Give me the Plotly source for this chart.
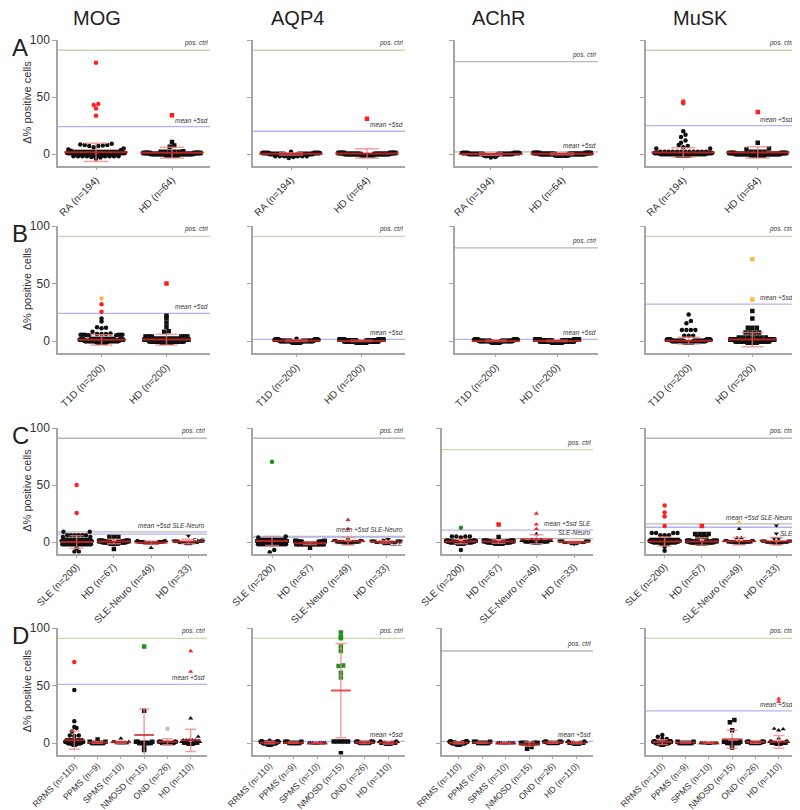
import plotly.graph_objects as go

FONT = "Liberation Sans, Arial, sans-serif"
W, H = 800, 810
OFF = 8  # page body margin: screenshot pixel = paper pixel + OFF
COLUMNS = ["MOG", "AQP4", "AChR", "MuSK"]
ROWS = ["A", "B", "C", "D"]

CATS_A = ["RA (n=194)", "HD (n=64)"]
CATS_B = ["T1D (n=200)", "HD (n=200)"]
CATS_C = ["SLE (n=200)", "HD (n=67)", "SLE-Neuro (n=49)", "HD (n=33)"]
CATS_D = ["RRMS (n=110)", "PPMS (n=9)", "SPMS (n=10)", "NMOSD (n=15)", "OND (n=26)", "HD (n=110)"]

Y_TICKS = [0, 50, 100]
Y_RANGE = [-10, 100]

# band = (value, count) of the many near-zero dots; pts = (value, colour code)
# colour codes: k black, r red (above cut-off), o orange, g green, s grey
# ---------------- Row A ----------------
A_MOG_BAND = [[(-2, 8), (-1, 30), (0, 80), (1, 38), (2, 18)],
              [(-1, 12), (0, 28), (1, 14), (2, 4)]]
A_MOG_PTS = [[(80, 'r'), (44, 'r'), (43, 'r'), (40, 'r'), (33.5, 'r'), (9, 'k'), (8.5, 'k'), (8, 'k'), (8, 'k'),
              (7.5, 'k'), (7, 'k'), (7, 'k'), (6, 'k'), (5, 'k'), (4, 'k'), (3.5, 'k'), (3, 'k'), (-2.5, 'k'),
              (-3, 'k'), (-4, 'k')],
             [(34, 'r'), (10.5, 'k'), (7.5, 'k'), (6.5, 'k'), (2.5, 'k'), (2, 'k')]]
A_MOG_MEAN = [1.6, 1.2]
A_MOG_SD = [8.0, 4.7]
A_MOG_REF = [(91, 'g', 'pos. ctrl', 'above'), (24, 'b', 'mean +5sd', 'above')]

A_AQP4_BAND = [[(-2, 6), (-1, 40), (0, 100), (1, 45)],
               [(-1, 14), (0, 35), (1, 14)]]
A_AQP4_PTS = [[(2, 'k'), (-2.5, 'k'), (-3.5, 'k')], [(31, 'r')]]
A_AQP4_MEAN = [0.2, 0.6]
A_AQP4_SD = [1.0, 4.0]
A_AQP4_REF = [(91, 'g', 'pos. ctrl', 'above'), (20, 'b', 'mean +5sd', 'above')]

A_ACHR_BAND = [[(-1, 45), (0, 100), (1, 43)],
               [(-1, 15), (0, 35), (1, 14)]]
A_ACHR_PTS = [[(-2, 'k'), (-2.5, 'k'), (-3, 'k')], []]
A_ACHR_MEAN = [0.0, 0.2]
A_ACHR_SD = [1.0, 0.8]
A_ACHR_REF = [(81, 's', 'pos. ctrl', 'above'), (2, 's', 'mean +5sd', 'above')]

A_MUSK_BAND = [[(-1, 40), (0, 95), (1, 35), (2, 12)],
               [(-1, 14), (0, 30), (1, 12), (2, 4)]]
A_MUSK_PTS = [[(46, 'r'), (44.5, 'r'), (20, 'k'), (17, 'k'), (15, 'k'), (12, 'k'), (10, 'k'), (8, 'k'), (7, 'k'),
               (6, 'k'), (5, 'k'), (5, 'k')],
              [(37, 'r'), (10, 'k'), (5, 'k'), (4, 'k')]]
A_MUSK_MEAN = [1.5, 1.5]
A_MUSK_SD = [4.0, 5.0]
A_MUSK_REF = [(91, 'g', 'pos. ctrl', 'above'), (25, 'b', 'mean +5sd', 'above')]

# ---------------- Row B ----------------
B_MOG_BAND = [[(-1, 40), (0, 90), (1, 35), (2, 12)],
              [(-1, 40), (0, 95), (1, 38), (2, 13)]]
B_MOG_PTS = [[(37, 'o'), (32, 'r'), (25.5, 'r'), (19.5, 'k'), (17, 'k'), (12, 'k'), (11.5, 'k'), (11, 'k'),
              (8, 'k'), (6.5, 'k'), (6, 'k'), (6, 'k'), (6, 'k'), (5.5, 'k'), (5.5, 'k'), (5.5, 'k'), (5.5, 'k'),
              (5.5, 'k'), (5.5, 'k'), (5, 'k'), (5, 'k'), (5, 'k')],
             [(50, 'r'), (22, 'k'), (20, 'k'), (16, 'k'), (12.5, 'k'), (8.5, 'k'), (8, 'k'), (4, 'k'), (4, 'k'),
              (4, 'k'), (4, 'k'), (4, 'k'), (4, 'k'), (4, 'k'), (4, 'k')]]
B_MOG_MEAN = [1.0, 1.2]
B_MOG_SD = [4.5, 4.6]
B_MOG_REF = [(91, 'g', 'pos. ctrl', 'above'), (24, 'b', 'mean +5sd', 'above')]

B_AQP4_BAND = [[(-1, 45), (0, 110), (1, 44)], [(-1, 45), (0, 110), (1, 45)]]
B_AQP4_PTS = [[(2, 'k')], []]
B_AQP4_MEAN = [0.2, 0.1]
B_AQP4_SD = [0.6, 0.6]
B_AQP4_REF = [(91, 'g', 'pos. ctrl', 'above'), (1.5, 'b', 'mean +5sd', 'above')]

B_ACHR_BAND = [[(-1, 45), (0, 110), (1, 45)], [(-1, 45), (0, 110), (1, 45)]]
B_ACHR_PTS = [[], []]
B_ACHR_MEAN = [0.1, 0.1]
B_ACHR_SD = [0.5, 0.5]
B_ACHR_REF = [(81, 's', 'pos. ctrl', 'above'), (1.5, 'b', 'mean +5sd', 'above')]

B_MUSK_BAND = [[(-1, 40), (0, 110), (1, 40)], [(-1, 40), (0, 100), (1, 42)]]
B_MUSK_PTS = [[(23, 'k'), (17.5, 'k'), (15.5, 'k'), (9.5, 'k'), (9.5, 'k'), (9.5, 'k'), (9.5, 'k'), (4.5, 'k'),
               (4.5, 'k'), (4.5, 'k')],
              [(71, 'o'), (36, 'o'), (26, 'k'), (19.5, 'k'), (11.5, 'k'), (11.5, 'k'), (11.5, 'k'), (7.5, 'k'),
               (7.5, 'k'), (7.5, 'k'), (7.5, 'k'), (3, 'k'), (3, 'k'), (3, 'k'), (3, 'k'), (3, 'k'), (3, 'k'),
               (3, 'k')]]
B_MUSK_MEAN = [0.3, 1.3]
B_MUSK_SD = [2.9, 6.2]
B_MUSK_REF = [(91, 'g', 'pos. ctrl', 'above'), (32, 'b', 'mean +5sd', 'above')]

# ---------------- Row C ----------------
C_MOG_BAND = [[(-2, 20), (-1, 45), (0, 75), (1, 35), (2, 10)],
              [(-1, 18), (0, 30), (1, 15)],
              [(-1, 20), (0, 20), (1, 8)],
              [(-1, 8), (0, 14), (1, 10)]]
C_MOG_PTS = [[(50, 'r'), (25.5, 'r'), (9, 'k'), (9, 'k'), (6, 'k'), (6, 'k'), (6, 'k'), (6, 'k'), (6, 'k'),
              (6, 'k'), (4.5, 'k'), (4.5, 'k'), (-5.5, 'k'), (-8.5, 'k'), (-8.5, 'k')],
             [(4.5, 'k'), (4.5, 'k'), (4.5, 'k'), (-6, 'k')],
             [(-5, 'k')],
             [(5.5, 'k')]]
C_MOG_MEAN = [0.0, 0.5, -0.5, 0.5]
C_MOG_SD = [5.5, 2.0, 1.5, 2.0]
C_MOG_REF = [(91, 's', 'pos. ctrl', 'above'), (9, 's', 'mean +5sd SLE-Neuro', 'above'), (7, 'b', 'SLE', 'below')]

C_AQP4_BAND = [[(-2, 15), (-1, 45), (0, 90), (1, 35), (2, 10)],
               [(-2, 10), (-1, 30), (0, 20), (1, 5)],
               [(-1, 12), (0, 22), (1, 12)],
               [(-1, 8), (0, 15), (1, 8)]]
C_AQP4_PTS = [[(70.5, 'g'), (5, 'k'), (4, 'k'), (-7, 'k'), (-9, 'k')],
              [(-5, 'k')],
              [(19.5, 'r'), (11.5, 'r'), (3, 'k')],
              [(2.5, 'k'), (2, 'k')]]
C_AQP4_MEAN = [1.0, -1.0, 0.7, 0.2]
C_AQP4_SD = [4.0, 1.2, 3.3, 1.0]
C_AQP4_REF = [(91, 's', 'pos. ctrl', 'above'), (5, 's', 'mean +5sd SLE-Neuro', 'above'), (4.3, 'b', 'SLE', 'below')]

C_ACHR_BAND = [[(-1, 50), (0, 100), (1, 42)],
               [(-1, 18), (0, 32), (1, 15)],
               [(-1, 10), (0, 22), (1, 10), (2, 3)],
               [(-1, 8), (0, 16), (1, 8)]]
C_ACHR_PTS = [[(12.5, 'g'), (5, 'k'), (5, 'k'), (5, 'k'), (5, 'k'), (4, 'k'), (-7, 'k')],
              [(15.5, 'r'), (4.5, 'k')],
              [(25, 'r'), (15.5, 'r'), (11.5, 'r'), (7, 'k')],
              [(-1.7, 'k')]]
C_ACHR_MEAN = [0.5, 0.5, 2.5, 0.0]
C_ACHR_SD = [2.0, 1.5, 4.0, 0.8]
C_ACHR_REF = [(81, 'g', 'pos. ctrl', 'above'), (10.5, 'b', 'mean +5sd SLE', 'above'), (3, 's', 'SLE-Neuro', 'above')]

C_MUSK_BAND = [[(-1, 45), (0, 95), (1, 35), (2, 12)],
               [(-1, 15), (0, 30), (1, 14)],
               [(-1, 12), (0, 22), (1, 11)],
               [(-1, 8), (0, 14), (1, 7)]]
C_MUSK_PTS = [[(32, 'r'), (26, 'r'), (22.5, 'r'), (14, 'r'), (8, 'k'), (8, 'k'), (8, 'k'), (8, 'k'), (6, 'k'),
               (6, 'k'), (6, 'k'), (-4, 'k'), (-7.5, 'k')],
              [(14, 'r'), (7, 'k'), (7, 'k'), (7, 'k'), (7, 'k'), (4.5, 'k'), (4.5, 'k'), (4.5, 'k')],
              [(17.5, 'o'), (11.5, 'k'), (3.5, 'k'), (3.5, 'k')],
              [(14.5, 'k'), (7.5, 'k'), (3, 'k'), (3, 'k')]]
C_MUSK_MEAN = [0.5, 0.5, 0.8, 0.8]
C_MUSK_SD = [4.0, 3.3, 3.2, 3.2]
C_MUSK_REF = [(91, 's', 'pos. ctrl', 'above'), (16, 's', 'mean +5sd SLE-Neuro', 'above'), (13, 'b', 'SLE', 'below')]

# ---------------- Row D ----------------
D_MOG_BAND = [[(-1, 20), (0, 50), (1, 24)], [(0, 6), (1, 2)], [(0, 6), (1, 3)], [(0, 8), (1, 3)],
              [(0, 18), (1, 7)], [(-1, 25), (0, 50), (1, 26)]]
D_MOG_PTS = [[(70.5, 'r'), (46, 'k'), (19, 'k'), (14, 'k'), (13, 'k'), (10, 'k'), (6.5, 'k'), (6.5, 'k'), (6, 'k'),
              (2.5, 'k'), (2.5, 'k'), (2.5, 'k'), (2.5, 'k'), (2.5, 'k'), (2.5, 'k'), (2.5, 'k')],
             [(3, 'k')], [(4, 'k')],
             [(84, 'g'), (28, 'k'), (-4, 'k'), (-6, 'k')],
             [(12.5, 's')],
             [(80, 'r'), (62, 'r'), (21.5, 'k'), (5.5, 'k'), (2.5, 'k'), (2.5, 'k'), (2.5, 'k'), (2.5, 'k'),
              (2.5, 'k')]]
D_MOG_MEAN = [2.5, 0.5, 0.7, 7.0, 1.0, 2.3]
D_MOG_SD = [8.0, 0.8, 1.0, 22.5, 2.6, 9.7]
D_MOG_REF = [(91, 'g', 'pos. ctrl', 'above'), (51, 'b', 'mean +5sd', 'above')]

D_AQP4_BAND = [[(-1, 30), (0, 55), (1, 24)], [(0, 6), (1, 3)], [(0, 7), (-0.5, 3)], [],
               [(0, 16), (1, 10)], [(-1, 30), (0, 55), (1, 25)]]
D_AQP4_PTS = [[(2, 'k')], [], [],
              [(96, 'g'), (92.5, 'g'), (91, 'g'), (84, 'g'), (80, 'g'), (67.5, 'g'), (67, 'g'), (61, 'g'), (57, 'g'),
               (1.2, 'k'), (1.2, 'k'), (1.2, 'k'), (1.2, 'k'), (1.2, 'k'), (-9, 'k')],
              [], []]
D_AQP4_MEAN = [0.3, 0.3, -0.2, 45.6, 0.5, 0.2]
D_AQP4_SD = [1.0, 0.5, 0.5, 41.0, 1.0, 1.0]
D_AQP4_REF = [(91, 'g', 'pos. ctrl', 'above'), (1.5, 'b', 'mean +5sd', 'above')]

D_ACHR_BAND = [[(-1, 30), (0, 55), (1, 25)], [(0, 6), (1, 3)], [(0, 7), (-0.5, 3)], [(0, 9), (-1, 4)],
               [(0, 16), (1, 10)], [(-1, 30), (0, 55), (1, 25)]]
D_ACHR_PTS = [[], [], [], [(-5, 'k'), (-3.5, 'k')], [], []]
D_ACHR_MEAN = [0.2, 0.2, -0.3, -1.0, 0.5, 0.2]
D_ACHR_SD = [0.8, 0.5, 0.5, 1.8, 0.8, 0.8]
D_ACHR_REF = [(80, 's', 'pos. ctrl', 'above'), (1.5, 'b', 'mean +5sd', 'above')]

D_MUSK_BAND = [[(-1, 25), (0, 55), (1, 26)], [(0, 7), (1, 2)], [(0, 8), (-0.5, 2)], [(0, 8), (1, 3)],
               [(0, 16), (1, 10)], [(-1, 25), (0, 55), (1, 24)]]
D_MUSK_PTS = [[(7, 'k'), (5.5, 'k'), (3.5, 'k'), (3.5, 'k')], [], [],
              [(20, 'k'), (18, 'k'), (11, 'k'), (-4, 'k')], [],
              [(38.5, 'r'), (36, 'r'), (12.5, 'k'), (12, 'k'), (11, 'k'), (4, 'k')]]
D_MUSK_MEAN = [0.8, 0.5, 0.2, 3.2, 0.8, 1.0]
D_MUSK_SD = [2.0, 0.6, 0.5, 7.8, 1.0, 5.5]
D_MUSK_REF = [(91, 'g', 'pos. ctrl', 'above'), (28, 'b', 'mean +5sd', 'above')]

# ---------------- layout (pixel geometry, screenshot pixels) ----------------
ROW_Y = {"A": (40, 165.5), "B": (226, 352.5), "C": (428, 553.5), "D": (628, 754.5)}
COL_X = {
    "A": [(58, 210), (253, 405), (455, 598), (646, 795)],
    "B": [(58, 210), (253, 405), (455, 598), (646, 795)],
    "C": [(58, 207), (253, 405), (442, 593), (646, 795)],
    "D": [(58, 207), (253, 405), (442, 593), (646, 795)],
}
X_RANGE = {"A": [-0.5, 1.5], "B": [-0.67, 1.67], "C": [-0.5, 3.5], "D": [-0.7, 5.7]}
SWARM_W = {"A": 58, "B": 44, "C": 30, "D": 18}
CAP_W = {"A": 24, "B": 22, "C": 14, "D": 11}
TICK_FONT = {"A": 10, "B": 10, "C": 9.8, "D": 8.8}
LABEL_STANDOFF = {"A": 0, "B": 0, "C": -1, "D": -2}
SYMBOLS = {"A": ["circle", "square"], "B": ["circle", "square"],
           "C": ["circle", "square", "triangle-up", "triangle-down"],
           "D": ["circle", "square", "triangle-up", "square", "circle", "triangle-up"]}
CATS = {"A": CATS_A, "B": CATS_B, "C": CATS_C, "D": CATS_D}
DOT_COL = {'k': '#111111', 'r': '#ff1f1f', 'o': '#ffb84d', 'g': '#1f8f1f', 's': '#c0c0c0'}
REF_COL = {'g': '#c6dbb2', 'b': '#b3b3f2', 's': '#b8b8b8'}
AX = '#a6a6a6'
DOT_PX = 4.5

PANELS = {
    ("A", "MOG"): (A_MOG_BAND, A_MOG_PTS, A_MOG_MEAN, A_MOG_SD, A_MOG_REF),
    ("A", "AQP4"): (A_AQP4_BAND, A_AQP4_PTS, A_AQP4_MEAN, A_AQP4_SD, A_AQP4_REF),
    ("A", "AChR"): (A_ACHR_BAND, A_ACHR_PTS, A_ACHR_MEAN, A_ACHR_SD, A_ACHR_REF),
    ("A", "MuSK"): (A_MUSK_BAND, A_MUSK_PTS, A_MUSK_MEAN, A_MUSK_SD, A_MUSK_REF),
    ("B", "MOG"): (B_MOG_BAND, B_MOG_PTS, B_MOG_MEAN, B_MOG_SD, B_MOG_REF),
    ("B", "AQP4"): (B_AQP4_BAND, B_AQP4_PTS, B_AQP4_MEAN, B_AQP4_SD, B_AQP4_REF),
    ("B", "AChR"): (B_ACHR_BAND, B_ACHR_PTS, B_ACHR_MEAN, B_ACHR_SD, B_ACHR_REF),
    ("B", "MuSK"): (B_MUSK_BAND, B_MUSK_PTS, B_MUSK_MEAN, B_MUSK_SD, B_MUSK_REF),
    ("C", "MOG"): (C_MOG_BAND, C_MOG_PTS, C_MOG_MEAN, C_MOG_SD, C_MOG_REF),
    ("C", "AQP4"): (C_AQP4_BAND, C_AQP4_PTS, C_AQP4_MEAN, C_AQP4_SD, C_AQP4_REF),
    ("C", "AChR"): (C_ACHR_BAND, C_ACHR_PTS, C_ACHR_MEAN, C_ACHR_SD, C_ACHR_REF),
    ("C", "MuSK"): (C_MUSK_BAND, C_MUSK_PTS, C_MUSK_MEAN, C_MUSK_SD, C_MUSK_REF),
    ("D", "MOG"): (D_MOG_BAND, D_MOG_PTS, D_MOG_MEAN, D_MOG_SD, D_MOG_REF),
    ("D", "AQP4"): (D_AQP4_BAND, D_AQP4_PTS, D_AQP4_MEAN, D_AQP4_SD, D_AQP4_REF),
    ("D", "AChR"): (D_ACHR_BAND, D_ACHR_PTS, D_ACHR_MEAN, D_ACHR_SD, D_ACHR_REF),
    ("D", "MuSK"): (D_MUSK_BAND, D_MUSK_PTS, D_MUSK_MEAN, D_MUSK_SD, D_MUSK_REF),
}


def px_x(p):
    return (p - OFF) / W


def px_y(p):
    return 1 - (p - OFF) / H


def swarm_offsets(values, ppu_y, maxw_px):
    """Horizontal offsets (px) for a beeswarm-like layout, derived from the values."""
    order = sorted(range(len(values)), key=lambda i: values[i])
    bins = {}
    for i in order:
        b = int(round(values[i] * ppu_y / DOT_PX))
        bins.setdefault(b, []).append(i)
    off = [0.0] * len(values)
    for members in bins.values():
        k = len(members)
        if k == 1:
            continue
        step = min(DOT_PX, maxw_px / k)
        for j, i in enumerate(members):
            slot = ((j + 1) // 2) * (1 if j % 2 else -1)
            off[i] = slot * step
        if k % 2 == 0:
            for i in members:
                off[i] -= step / 2
    return off


fig = go.Figure()
lay = {}
annotations = []
shapes = []

for ri, row in enumerate(ROWS):
    ytop, ybot = ROW_Y[row]
    ppu_y = (ybot - ytop) / (Y_RANGE[1] - Y_RANGE[0])
    cats = CATS[row]
    for ci, col in enumerate(COLUMNS):
        k = ri * 4 + ci + 1
        xs = '' if k == 1 else str(k)
        xname, yname = 'x' + xs, 'y' + xs
        x0, x1 = COL_X[row][ci]
        xr = X_RANGE[row]
        ppu_x = (x1 - x0) / (xr[1] - xr[0])
        band, pts, means, sds, refs = PANELS[(row, col)]

        # dots
        by_col = {}
        for gi in range(len(cats)):
            vals, cols = [], []
            for v, n in band[gi]:
                vals += [v] * n
                cols += ['k'] * n
            for v, c in pts[gi]:
                vals.append(v)
                cols.append(c)
            offs = swarm_offsets(vals, ppu_y, SWARM_W[row])
            sym = SYMBOLS[row][gi]
            for v, c, o in zip(vals, cols, offs):
                d = by_col.setdefault(c, ([], [], []))
                d[0].append(gi + o / ppu_x)
                d[1].append(v)
                d[2].append(sym)
        for c in ['k', 's', 'o', 'g', 'r']:
            if c not in by_col:
                continue
            xx, yy, ss = by_col[c]
            fig.add_trace(go.Scatter(
                x=xx, y=yy, mode='markers', xaxis=xname, yaxis=yname, showlegend=False,
                hoverinfo='skip',
                marker=dict(size=DOT_PX, color=DOT_COL[c], symbol=ss, line=dict(width=0))))

        # mean +- SD
        cw = CAP_W[row] / 2 / ppu_x
        mw = SWARM_W[row] * 0.55 / ppu_x
        ex, ey, mx, my = [], [], [], []
        for gi, (m, s) in enumerate(zip(means, sds)):
            ex += [gi, gi, None, gi - cw, gi + cw, None, gi - cw, gi + cw, None]
            ey += [m - s, m + s, None, m + s, m + s, None, m - s, m - s, None]
            mx += [gi - mw, gi + mw, None]
            my += [m, m, None]
        fig.add_trace(go.Scatter(x=ex, y=ey, mode='lines', xaxis=xname, yaxis=yname, showlegend=False,
                                 hoverinfo='skip', line=dict(color='rgba(240,130,130,0.75)', width=1.5)))
        fig.add_trace(go.Scatter(x=mx, y=my, mode='lines', xaxis=xname, yaxis=yname, showlegend=False,
                                 hoverinfo='skip', line=dict(color='rgba(215,40,40,0.8)', width=2)))

        # reference lines + labels
        for v, c, label, pos in refs:
            shapes.append(dict(type='line', xref=xname + ' domain', yref=yname, x0=0, x1=1, y0=v, y1=v,
                               line=dict(color=REF_COL[c], width=1.3), layer='below'))
            annotations.append(dict(xref=xname + ' domain', yref=yname, x=1, y=v, xanchor='right',
                                    yanchor='bottom' if pos == 'above' else 'top', yshift=1 if pos == 'above' else -1,
                                    text='<i>' + label + '</i>', showarrow=False,
                                    font=dict(size=6.5, color='#333333', family=FONT)))

        lay['xaxis' + xs] = dict(
            domain=[px_x(x0), px_x(x1)], range=xr, anchor=yname, showline=True, linecolor=AX, linewidth=1.5,
            ticks='outside', ticklen=3, tickwidth=1, tickcolor=AX, tickvals=list(range(len(cats))),
            ticktext=cats, tickangle=-45, tickfont=dict(size=TICK_FONT[row], color='#333333', family=FONT),
            ticklabelstandoff=LABEL_STANDOFF[row],
            showgrid=False, zeroline=False, fixedrange=True, automargin=False)
        lay['yaxis' + xs] = dict(
            domain=[px_y(ybot), px_y(ytop)], range=Y_RANGE, anchor=xname, showline=True, linecolor=AX,
            linewidth=1.5, ticks='outside', ticklen=4, tickwidth=1, tickcolor=AX, tickvals=Y_TICKS,
            showticklabels=(ci == 0), tickfont=dict(size=12, color='#333333', family=FONT),
            showgrid=False, zeroline=False, fixedrange=True, automargin=False)

        if ci == 0:
            annotations.append(dict(xref='paper', yref='paper', x=px_x(27), y=px_y((ytop + ybot) / 2),
                                    xanchor='center', yanchor='middle',
                                    text='Δ% positive cells', textangle=-90, showarrow=False,
                                    font=dict(size=11, color='#333333', family=FONT)))
    # row letter
    annotations.append(dict(xref='paper', yref='paper', x=0.002, y=px_y(ytop + 7), xanchor='left',
                            yanchor='middle', text=row, showarrow=False,
                            font=dict(size=24, color='#222222', family=FONT)))

COL_TITLE_X = [97, 297, 498, 700]
for ci, col in enumerate(COLUMNS):
    annotations.append(dict(xref='paper', yref='paper', x=px_x(COL_TITLE_X[ci]), y=px_y(18), xanchor='center',
                            yanchor='middle', text=col, showarrow=False,
                            font=dict(size=20, color='#222222', family=FONT)))

fig.update_layout(width=W, height=H, autosize=False, margin=dict(l=0, r=0, t=0, b=0, autoexpand=False),
                  paper_bgcolor='white', plot_bgcolor='white', font=dict(family=FONT),
                  shapes=shapes, annotations=annotations, showlegend=False, **lay)

fig.write_html("out.html")
